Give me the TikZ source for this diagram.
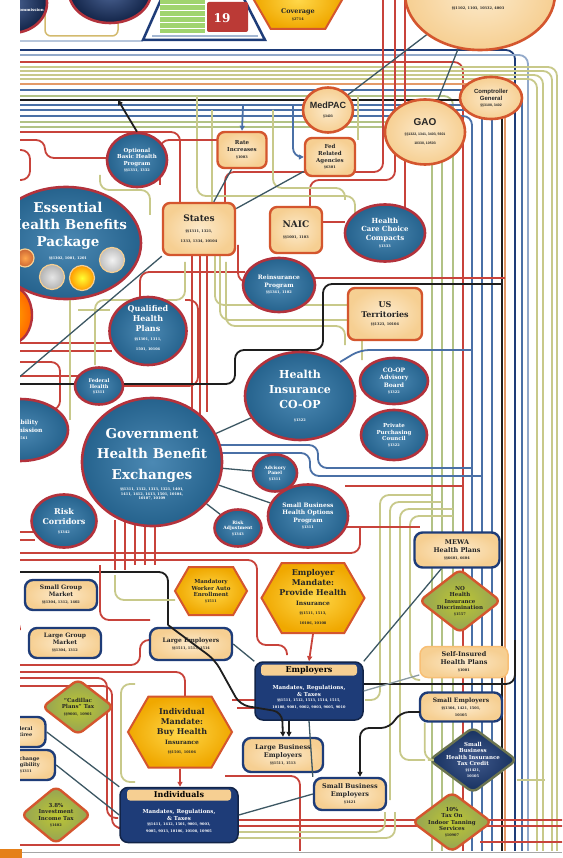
\documentclass[tikz,border=0pt]{standalone}
\usepackage{fontspec}
\setmainfont{DejaVu Serif}
\setsansfont{Liberation Sans}
\usetikzlibrary{shapes.geometric,shapes.symbols,arrows.meta}
\definecolor{cblue}{HTML}{2C74A6}
\definecolor{cred}{HTML}{B3323C}
\definecolor{cnavy}{HTML}{1E3C78}
\definecolor{cdnavy}{HTML}{16305E}
\definecolor{cpeach}{HTML}{F6CF92}
\definecolor{cpeachl}{HTML}{FCEACB}
\definecolor{corange}{HTML}{D4562E}
\definecolor{cyel}{HTML}{F0A800}
\definecolor{cyell}{HTML}{FFD84A}
\definecolor{cgreen}{HTML}{93A255}
\definecolor{lred}{HTML}{C8433B}
\definecolor{lyg}{HTML}{C8C98A}
\definecolor{lblue}{HTML}{4A70A6}
\definecolor{lblack}{HTML}{1E1E1E}
\definecolor{lorange}{HTML}{E49A68}
\definecolor{lgreen}{HTML}{B2C285}
\definecolor{lslate}{HTML}{3C5763}
\newcommand\fsz[2]{\fontsize{#1}{#2}\selectfont}
\begin{document}
\begin{tikzpicture}[x=1pt,y=-1pt,
  every node/.style={inner sep=0pt},
  wire/.style={line width=1.8pt, rounded corners=9pt},
  lr/.style={wire, draw=lred},
  ly/.style={wire, draw=lyg},
  lg/.style={wire, draw=lgreen},
  lb/.style={wire, draw=lblue},
  lk/.style={wire, draw=lblack},
  lo/.style={wire, draw=lorange},
  link/.style={line width=1.3pt, draw=lslate},
  arr/.style={-{Triangle[length=5pt,width=5pt]}},
  bcirc/.style={ellipse, draw=cred, line width=2.6pt, inner color=cblue!85!white, outer color=cblue!85!black},
  ncirc/.style={ellipse, draw=cred, line width=2.6pt, inner color=cnavy!80!white, outer color=cnavy!60!black},
  pcirc/.style={ellipse, draw=corange, line width=2.6pt, inner color=cpeachl, outer color=cpeach},
  pbox/.style={rectangle, rounded corners=7pt, draw=corange, line width=2.4pt, inner color=cpeachl, outer color=cpeach},
  lbox/.style={rectangle, rounded corners=8pt, draw=cnavy, line width=2.4pt, inner color=cpeachl, outer color=cpeach},
  sbox/.style={rectangle, rounded corners=8pt, draw=cpeach!80!orange, line width=1.5pt, inner color=cpeachl, outer color=cpeach},
  hexa/.style={signal, signal to=east and west, signal pointer angle=120, draw=corange, line width=2pt, inner color=cyell, outer color=cyel},
  gdia/.style={diamond, rounded corners=6pt, draw=corange, line width=2.4pt, inner color=cgreen!60!yellow, outer color=cgreen},
  ndia/.style={diamond, rounded corners=6pt, draw=lgreen!60!black, line width=2.4pt, inner color=cnavy!85!white, outer color=cdnavy},
  dbox/.style={rectangle, rounded corners=8pt, draw=cnavy!60!black, line width=1.5pt, fill=cnavy},
  hbar/.style={rectangle, rounded corners=3pt, fill=cpeach, text=black, font=\bfseries},
  tw/.style={text=white, align=center, font=\bfseries},
  tk/.style={text=black!85, align=center, font=\bfseries},
]
\useasboundingbox (0,0) rectangle (562,858);
\fill[white] (0,0) rectangle (562,858);
\begin{scope}
\clip (20,0) rectangle (562,850);
% ---------- top band into right bundle ----------
\foreach \yy/\xx/\cc in {50/515/cnavy, 55/528/lblue!60!white, 62/463/lred, 67/557/lyg, 71/552/lyg, 75/543/lyg, 79/537/lyg, 84/505/lorange, 90/522/lblue, 96/453/lgreen, 100/502/lblack, 105/492/lblue, 110/482/lblue, 116/472/lblue, 122/442/lgreen, 127/432/lgreen}
  \draw[wire,draw=\cc] (0,\yy) -- (\xx,\yy) -- (\xx,870);
\draw[wire,draw=lblue!40!white] (0,41) -- (143,41);
% red verticals from the top
\draw[lr] (383,-5) -- (383,172) -- (225,172) -- (225,210);
\draw[lr] (395,-5) -- (395,180) -- (310,180) -- (310,210);
\draw[lr] (405,-5) -- (405,215);
% green drops from band
\draw[ly] (197,96) -- (197,196) -- (355,196) -- (355,215);
\draw[ly] (212,110) -- (212,205);
\draw[ly] (273,110) -- (273,188) -- (345,188) -- (345,200);
\draw[ly] (358,96) -- (358,140);
% left red network
\draw[lr] (0,132) -- (180,132) -- (180,210);
\draw[lr] (0,140) -- (45,140) -- (45,158) -- (110,158);
\draw[lr] (0,150) -- (30,150) -- (30,180) -- (0,180);
\draw[lr] (160,185) -- (160,140) -- (250,140);
\draw[ly] (100,175) -- (100,190) -- (150,190) -- (150,215);
\draw[lr] (0,290) -- (40,290);
\draw[lr] (0,343) -- (112,343);
\draw[lr] (0,351) -- (112,351);
\draw[lr] (0,376) -- (80,376);
\draw[lr] (0,362) -- (60,362) -- (60,410) -- (0,410);
\draw[lr] (120,386) -- (198,386) -- (198,300) -- (185,300);
\draw[lr] (140,297) -- (140,272) -- (245,272);
\draw[ly] (70,300) -- (70,420);
\draw[ly] (78,310) -- (110,310);
\draw[ly] (95,365) -- (95,300) -- (185,300) -- (185,262);
\draw[lr] (192,256) -- (192,430);
\draw[lr] (200,256) -- (200,430);
\draw[lr] (207,256) -- (207,412);
\draw[ly] (215,256) -- (215,305) -- (355,305) -- (355,292);
\draw[ly] (220,256) -- (220,320) -- (362,320) -- (362,360);
\draw[ly] (226,262) -- (226,326) -- (345,326) -- (345,345);
\draw[lr] (238,245) -- (238,282) -- (250,282);
\draw[lr] (313,278) -- (505,278);
\draw[lr] (322,222) -- (345,222);
% black long route
\draw[lk] (0,384) -- (235,384) -- (235,350) -- (323,350) -- (323,284) -- (502,284);
% blue around coop
\draw[lb] (340,362) -- (360,350) -- (472,350);
\draw[lb] (218,445) -- (318,445) -- (318,468) -- (472,468);
\draw[lb] (215,453) -- (310,453) -- (310,476) -- (482,476);
\draw[lr] (345,486) -- (463,486);
% yellow-green in right middle column
\draw[ly] (432,495) -- (380,495) -- (380,700) -- (365,700);
\draw[ly] (442,502) -- (390,502) -- (390,800);
\draw[ly] (453,509) -- (400,509) -- (400,760) -- (425,760);
\draw[ly] (453,516) -- (410,516) -- (410,680) -- (420,680);
\draw[lr] (345,527) -- (420,527);
% left lower red
\draw[lr] (0,532) -- (40,532);
\draw[lr] (0,540) -- (35,540);
\draw[lr] (115,520) -- (115,570);
\draw[lr] (125,520) -- (125,570);
\draw[lr] (135,520) -- (135,565);
\draw[lr] (145,520) -- (145,565);
\draw[lr] (155,520) -- (155,565);
\draw[lr] (0,553) -- (360,553) -- (360,528);
\draw[lr] (0,560) -- (257,560) -- (257,645) -- (287,645) -- (287,655);
\draw[lk] (0,572) -- (168,572) -- (168,625);
\draw[lr] (0,620) -- (20,620) -- (20,630);
\draw[lr] (100,565) -- (100,620) -- (150,620);
\draw[ly] (115,575) -- (115,600) -- (175,600);
\draw[lr] (0,665) -- (140,665) -- (140,640) -- (150,640);
\draw[lr] (0,672) -- (185,672) -- (185,700);
\draw[lr] (0,678) -- (107,678) -- (107,818) -- (118,818);
\draw[lr] (0,686) -- (112,686) -- (112,828) -- (118,828);
\draw[ly] (135,684) -- (121,684) -- (121,782) -- (135,782);
\draw[lr] (225,776) -- (300,776) -- (300,870);
\draw[lr] (230,820) -- (570,820);
\draw[lr] (230,826) -- (570,826);
\draw[ly] (230,832) -- (385,832) -- (385,812);
\draw[ly] (230,838) -- (395,838) -- (395,812);
\draw[lr] (0,845) -- (120,845);
\draw[lr] (232,700) -- (255,700);
\draw[lr] (237,708) -- (255,708);
\draw[lk] (515,640) -- (515,684) -- (363,684);
\draw[ly] (517,780) -- (545,780);
\draw[lr] (480,842) -- (570,842);
\end{scope}
% ---------- top partial shapes ----------
\begin{scope}
\clip (20,0) rectangle (562,850);
\draw[line width=1.5pt, draw=lyg!80!orange, rounded corners=6pt] (45,-10) rectangle (118,36);
\node[ncirc, minimum width=70, minimum height=60] (tlc) at (12,3) {};
\node[ncirc, minimum width=82, minimum height=62] (tmc) at (110,-8) {};
\node[tw, font=\bfseries\fsz{4}{5}] (tlcT) at (30,10) {Commission};
\draw[line width=2.5pt, draw=cnavy, fill=white] (143,40) -- (163,-5) -- (242,-5) -- (265,40) -- cycle;
\fill[lyg!80!green] (160,0) rectangle (205,33);
\foreach \k in {4,10,16,22,28} \draw[white, line width=0.8pt] (160,\k) -- (205,\k);
\fill[cred!90!orange, rounded corners=2pt] (207,2) rectangle (248,32);
\node[tw, font=\bfseries\fsz{12}{14}] (nineteen) at (222,18) {19};
\draw[line width=1.2pt, draw=lblue!50!white] (152,36) -- (258,36);
\node[hexa, minimum width=88, minimum height=58] (tophex) at (298,0) {};
\node[tk, font=\bfseries\fsz{6.5}{8}] (tophexT) at (298,15) {Coverage\\[-1pt]{\fsz{3.5}{4}\S 2714}};
\node[pcirc, minimum width=150, minimum height=112] (bigtop) at (480,-6) {};
\node[tk, font=\bfseries\fsz{3.5}{4}] (bigtopT) at (478,8) {\S\S 1102, 1103, 10332, 4003};
\node[ellipse, draw=cred, line width=2.4pt, inner color=orange!70!yellow, outer color=orange!80!red, minimum width=40, minimum height=56] (orleft) at (12,315) {};
\end{scope}
% ---------- nodes ----------
\begin{scope}
\clip (20,0) rectangle (562,850);
\node[pcirc, minimum width=50, minimum height=45] (medpac) at (328,110) {};
\node[font=\sffamily\bfseries\fsz{9}{10}, text=black!85, align=center] (medpacT) at (328,110) {MedPAC\\[-1pt]{\fsz{3.5}{4}\S 3403}};
\node[pcirc, minimum width=80, minimum height=65] (gao) at (425,132) {};
\node[font=\sffamily\bfseries\fsz{10}{11}, text=black!85, align=center] (gaoT) at (425,132) {GAO\\[-1pt]{\fsz{3.5}{4}\S\S 1322, 1341, 3403, 5601}\\[-2pt]{\fsz{3.5}{4}10330, 10503}};
\node[pcirc, minimum width=62, minimum height=42] (comp) at (491,98) {};
\node[font=\sffamily\bfseries\fsz{6}{7}, text=black!85, align=center] (compT) at (491,98) {Comptroller\\General\\[-1pt]{\fsz{3.5}{4}\S\S 3108, 3402}};
\node[pbox, minimum width=49, minimum height=36] (rate) at (242,150) {};
\node[tk, font=\bfseries\fsz{5.5}{7}] (rateT) at (242,150) {Rate\\Increases\\{\fsz{3.5}{4}\S 1003}};
\node[pbox, minimum width=50, minimum height=38] (fedag) at (330,157) {};
\node[tk, font=\bfseries\fsz{5.5}{7}] (fedagT) at (330,157) {Fed\\Related\\Agencies\\[-1pt]{\fsz{3.5}{4}\S 6301}};
\node[bcirc, minimum width=60, minimum height=54] (obhp) at (137,160) {};
\node[tw, font=\bfseries\fsz{5.5}{6.8}] (obhpT) at (137,160) {Optional\\Basic Health\\Program\\[-1pt]{\fsz{3.5}{4}\S\S 1331, 1332}};
\node[bcirc, minimum width=150, minimum height=112] (ehbp) at (66,243) {};
\node[tw, font=\bfseries\fsz{13.5}{17}] (ehbpT) at (68,226) {Essential\\Health Benefits\\Package};
\node[tw, font=\bfseries\fsz{3.5}{4}] (ehbpS) at (68,258) {\S\S 1302, 1001, 1201};
\node[circle, draw=cpeach, line width=1.2pt, inner color=orange!70, outer color=brown!80!red, minimum size=18] (sc1) at (25,258) {};
\node[circle, draw=cpeach, line width=1.2pt, inner color=gray!20, outer color=gray!60, minimum size=25] (sc2) at (52,277) {};
\node[circle, draw=cpeach, line width=1.2pt, inner color=yellow!80, outer color=orange!80!yellow, minimum size=25] (sc3) at (82,278) {};
\node[circle, draw=cpeach, line width=1.2pt, inner color=gray!10, outer color=gray!50, minimum size=25] (sc4) at (112,260) {};
\node[pbox, minimum width=72, minimum height=52] (states) at (199,229) {};
\node[tk, font=\bfseries\fsz{9}{10}] (statesT) at (199,229) {States\\[1pt]{\fsz{3.5}{4.3}\S\S 1311, 1321,}\\{\fsz{3.5}{4.3}1333, 1334, 10104}};
\node[pbox, minimum width=52, minimum height=46] (naic) at (296,230) {};
\node[tk, font=\bfseries\fsz{9}{10}] (naicT) at (296,230) {NAIC\\[1pt]{\fsz{3.5}{4.3}\S\S 1001, 1103}};
\node[bcirc, minimum width=80, minimum height=57] (hccc) at (385,233) {};
\node[tw, font=\bfseries\fsz{7}{8.5}] (hcccT) at (385,233) {Health\\Care Choice\\Compacts\\[-1pt]{\fsz{3.5}{4}\S 1333}};
\node[bcirc, minimum width=72, minimum height=54] (rein) at (279,285) {};
\node[tw, font=\bfseries\fsz{6}{7.5}] (reinT) at (279,285) {Reinsurance\\Program\\[-1pt]{\fsz{3.5}{4}\S\S 1341, 1102}};
\node[pbox, minimum width=74, minimum height=52] (ust) at (385,314) {};
\node[tk, font=\bfseries\fsz{8}{9.5}] (ustT) at (385,314) {US\\Territories\\[-1pt]{\fsz{3.5}{4}\S\S 1323, 10104}};
\node[bcirc, minimum width=77, minimum height=68] (qhp) at (148,331) {};
\node[tw, font=\bfseries\fsz{8}{10}] (qhpT) at (148,328) {Qualified\\Health\\Plans\\[-1pt]{\fsz{3.5}{4.3}\S\S 1301, 1311,}\\{\fsz{3.5}{4.3}1501, 10104}};
\node[bcirc, minimum width=48, minimum height=37] (fedh) at (99,386) {};
\node[tw, font=\bfseries\fsz{5}{6}] (fedhT) at (99,386) {Federal\\Health\\[-1pt]{\fsz{3.5}{4}\S 1311}};
\node[bcirc, minimum width=96, minimum height=62] (leftc) at (20,430) {};
\node[tw, font=\bfseries\fsz{6}{7.5}] (leftcT) at (22,430) {Disability\\Commission\\{\fsz{3.5}{4}\S 1561}};
\node[bcirc, minimum width=110, minimum height=88] (coop) at (300,396) {};
\node[tw, font=\bfseries\fsz{11}{15}] (coopT) at (300,396) {Health\\Insurance\\CO-OP\\[-2pt]{\fsz{3.5}{4}\S 1322}};
\node[bcirc, minimum width=68, minimum height=46] (coopab) at (394,381) {};
\node[tw, font=\bfseries\fsz{6}{7.2}] (coopabT) at (394,381) {CO-OP\\Advisory\\Board\\[-1pt]{\fsz{3.5}{4}\S 1322}};
\node[bcirc, minimum width=66, minimum height=50] (ppc) at (394,435) {};
\node[tw, font=\bfseries\fsz{5.5}{6.8}] (ppcT) at (394,435) {Private\\Purchasing\\Council\\[-1pt]{\fsz{3.5}{4}\S 1322}};
\node[bcirc, minimum width=140, minimum height=128] (ghbe) at (152,462) {};
\node[tw, font=\bfseries\fsz{13.5}{20.5}] (ghbeT) at (152,455) {Government\\Health Benefit\\Exchanges};
\node[tw, font=\bfseries\fsz{3.5}{4.3}] (ghbeS) at (152,494) {\S\S 1311, 1312, 1313, 1321, 1401,\\1411, 1412, 1413, 1501, 10104,\\10107, 10109};
\node[bcirc, minimum width=65, minimum height=53] (rcor) at (64,521) {};
\node[tw, font=\bfseries\fsz{8}{10}] (rcorT) at (64,521) {Risk\\Corridors\\[-1pt]{\fsz{3.5}{4}\S 1342}};
\node[bcirc, minimum width=44, minimum height=37] (advp) at (275,473) {};
\node[tw, font=\bfseries\fsz{4.5}{5.5}] (advpT) at (275,473) {Advisory\\Panel\\{\fsz{3.5}{4}\S 1311}};
\node[bcirc, minimum width=80, minimum height=63] (sbhop) at (308,516) {};
\node[tw, font=\bfseries\fsz{6}{7.5}] (sbhopT) at (308,516) {Small Business\\Health Options\\Program\\[-1pt]{\fsz{3.5}{4}\S 1311}};
\node[bcirc, minimum width=47, minimum height=37] (radj) at (238,528) {};
\node[tw, font=\bfseries\fsz{4.5}{5.5}] (radjT) at (238,528) {Risk\\Adjustment\\{\fsz{3.5}{4}\S 1343}};
\node[lbox, minimum width=72, minimum height=30] (sgm) at (61,595) {};
\node[tk, font=\bfseries\fsz{6}{7}] (sgmT) at (61,595) {Small Group\\Market\\{\fsz{3.5}{4}\S\S 1304, 1312, 1402}};
\node[lbox, minimum width=72, minimum height=30] (lgm) at (65,643) {};
\node[tk, font=\bfseries\fsz{6}{7}] (lgmT) at (65,643) {Large Group\\Market\\{\fsz{3.5}{4}\S\S 1304, 1312}};
\node[hexa, minimum width=72, minimum height=48] (mwae) at (211,591) {};
\node[tk, font=\bfseries\fsz{5.5}{6.5}] (mwaeT) at (211,591) {Mandatory\\Worker Auto\\Enrollment\\[-1pt]{\fsz{3.5}{4}\S 1511}};
\node[hexa, minimum width=103, minimum height=70] (emand) at (313,598) {};
\node[tk, font=\bfseries\fsz{8}{10}] (emandT) at (313,597) {Employer\\Mandate:\\Provide Health\\{\fsz{6}{7}Insurance}\\[-1pt]{\fsz{3.5}{4}\S\S 1511, 1513,}\\{\fsz{3.5}{4}10106, 10108}};
\node[lbox, minimum width=85, minimum height=35] (mewa) at (457,550) {};
\node[tk, font=\bfseries\fsz{6.5}{7.5}] (mewaT) at (457,550) {MEWA\\Health Plans\\{\fsz{3.5}{4}\S\S 6601, 6604}};
\node[gdia, minimum width=82, minimum height=64] (nohi) at (460,601) {};
\node[tk, font=\bfseries\fsz{5.5}{6.5}] (nohiT) at (460,601) {NO\\Health\\Insurance\\Discrimination\\[-1pt]{\fsz{3.5}{4}\S 1557}};
\node[lbox, minimum width=82, minimum height=32] (lemp) at (191,644) {};
\node[tk, font=\bfseries\fsz{6}{7}] (lempT) at (191,644) {Large Employers\\{\fsz{3.5}{4}\S\S 1511, 1513, 1514}};
\node[sbox, minimum width=88, minimum height=31] (selfins) at (464,662) {};
\node[tk, font=\bfseries\fsz{6.5}{7.5}] (selfinsT) at (464,662) {Self-Insured\\Health Plans\\{\fsz{3.5}{4}\S 1001}};
\node[dbox, minimum width=108, minimum height=58] (emp) at (309,691) {};
\node[hbar, minimum width=96, minimum height=11, font=\bfseries\fsz{8}{9}] (empH) at (309,670) {Employers};
\node[tw, font=\bfseries\fsz{5.5}{6.5}] (empT) at (309,697) {Mandates, Regulations,\\\& Taxes\\[-1pt]{\fsz{3.5}{4}\S\S 1511, 1512, 1513, 1514, 1515,}\\{\fsz{3.5}{4}10108, 9001, 9002, 9003, 9005, 9010}};
\node[lbox, minimum width=82, minimum height=29] (semp) at (461,707) {};
\node[tk, font=\bfseries\fsz{6}{7}] (sempT) at (461,707) {Small Employers\\{\fsz{3.5}{4}\S\S 1304, 1421, 1501,}\\{\fsz{3.5}{4}10105}};
\node[ndia, minimum width=88, minimum height=66] (sbhitc) at (473,760) {};
\node[tw, font=\bfseries\fsz{5.5}{6.5}] (sbhitcT) at (473,760) {Small\\Business\\Health Insurance\\Tax Credit\\[-1pt]{\fsz{3.5}{4}\S\S 1421,}\\{\fsz{3.5}{4}10105}};
\node[gdia, minimum width=72, minimum height=56] (cadillac) at (78,707) {};
\node[tk, font=\bfseries\fsz{5.5}{6.5}] (cadillacT) at (78,707) {``Cadillac\\Plans'' Tax\\{\fsz{3.5}{4}\S\S 9001, 10901}};
\node[hexa, minimum width=104, minimum height=71] (imand) at (180,732) {};
\node[tk, font=\bfseries\fsz{8}{10}] (imandT) at (182,731) {Individual\\Mandate:\\Buy Health\\{\fsz{6}{7}Insurance}\\[-1pt]{\fsz{3.5}{4}\S\S 1501, 10106}};
\node[lbox, minimum width=55, minimum height=30] (lp1) at (18,732) {};
\node[tk, font=\bfseries\fsz{5}{6}] (lp1T) at (22,732) {Federal\\Retiree};
\node[lbox, minimum width=70, minimum height=30] (lp2) at (20,765) {};
\node[tk, font=\bfseries\fsz{5}{6}] (lp2T) at (26,765) {Exchange\\Eligibility\\{\fsz{3.5}{4}\S 1311}};
\node[lbox, minimum width=80, minimum height=34] (lbe) at (283,755) {};
\node[tk, font=\bfseries\fsz{6.5}{7.5}] (lbeT) at (283,755) {Large Business\\Employers\\{\fsz{3.5}{4}\S\S 1511, 1513}};
\node[gdia, minimum width=70, minimum height=58] (invtax) at (56,815) {};
\node[tk, font=\bfseries\fsz{5.5}{6.5}] (invtaxT) at (56,815) {3.8\%\\Investment\\Income Tax\\{\fsz{3.5}{4}\S 1402}};
\node[dbox, minimum width=118, minimum height=55] (ind) at (179,815) {};
\node[hbar, minimum width=104, minimum height=11, font=\bfseries\fsz{8}{9}] (indH) at (179,795) {Individuals};
\node[tw, font=\bfseries\fsz{5.5}{6.5}] (indT) at (179,821) {Mandates, Regulations,\\\& Taxes\\[-1pt]{\fsz{3.5}{4}\S\S 1411, 1412, 1501, 9001, 9003,}\\{\fsz{3.5}{4}9005, 9013, 10106, 10108, 10905}};
\node[lbox, minimum width=72, minimum height=32] (sbe) at (350,794) {};
\node[tk, font=\bfseries\fsz{6.5}{7.5}] (sbeT) at (350,794) {Small Business\\Employers\\{\fsz{3.5}{4}\S 1421}};
\node[gdia, minimum width=80, minimum height=60] (tanning) at (452,822) {};
\node[tk, font=\bfseries\fsz{5.5}{6.5}] (tanningT) at (452,822) {10\%\\Tax On\\Indoor Tanning\\Services\\[-1pt]{\fsz{3.5}{4}\S 10907}};
% ---------- connectors ----------
\draw[link] (rate) -- (states);
\draw[link] (fedag) -- (states);
\draw[link] (medpac) -- (bigtop);
\draw[link] (gao) -- (bigtop);
\coordinate (swfree) at (10,385);
\draw[link] (states.south west) -- (swfree);
\draw[link] (ghbe) -- (coop);
\draw[link] (ghbe) -- (advp);
\draw[link] (ghbe) -- (sbhop);
\draw[link] (ghbe) -- (radj);
\draw[link] (mewa) -- (emp.north east);
\draw[link, draw=lslate!60!white] (selfins) -- (emp.east);
\draw[link] (lemp.east) -- (emp.north west);
\draw[link] (emp.south) -- (sbe.north west);
\draw[link] (ind.east) -- (sbe.west);
\draw[link] (lp1.east) -- (ind.north west);
\draw[link] (lp2.east) -- (ind.west);
\draw[ly] (semp.south west) ++(6,0) |- (sbhitc.west);
\coordinate (obtop) at (118,100);
\draw[lk, arr] (obhp.north) -- (obtop);
\coordinate (ratetop) at (243,105);
\draw[lb, arr] (ratetop) -- (rate.north);
\coordinate (fedtop) at (293,105);
\draw[lb, arr] (fedtop) |- (fedag.west);
\draw[lr, arr] (emand.south) -- (emp.north);
\draw[lr, arr] (imand.south) -- (ind.north -| imand.south);
\coordinate (lbetop) at (168,625);
\draw[lk, arr] (lbetop) -- (215,660) -- (240,705) -- (282,712) -- (lbe.north);
\coordinate (sbetop) at (420,712);
\draw[lk, arr] (sbetop) -- (400,712) -- (390,728) -- (360,728) -- (sbe.north -| 360,0);
\draw[lk, arr] (emp.south) ++(-20,0) -- (lbe.north -| 289,0);
\end{scope}
\draw[gray!70, line width=0.8pt] (0,852) -- (562,852);
\fill[orange!60!brown] (0,849) rectangle (22,858);
\end{tikzpicture}
\end{document}
